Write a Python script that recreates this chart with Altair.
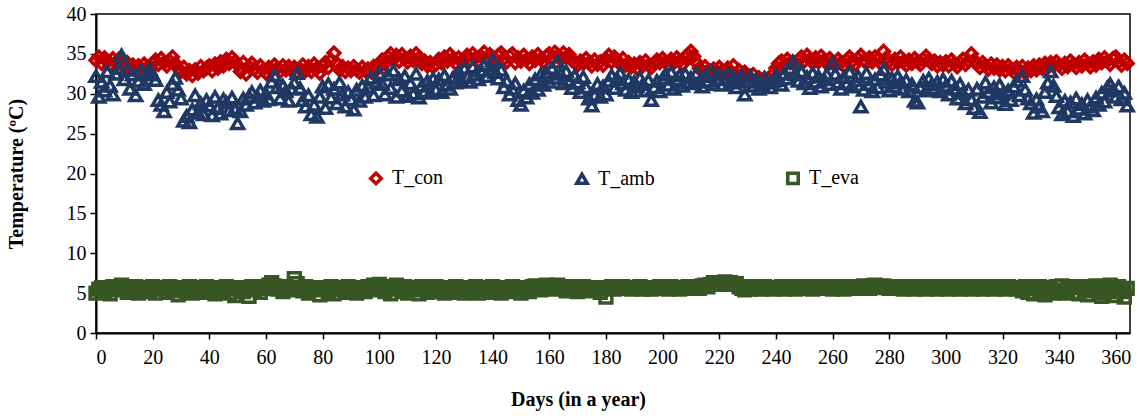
import altair as alt
import pandas as pd

days = list(range(365))

t_con = [
    34.2, 34.6, 33.8, 34.5, 34.0, 33.6, 34.4, 33.9, 34.3, 33.7,
    33.4, 33.9, 33.2, 33.6, 33.0, 33.5, 33.1, 33.7, 33.3, 33.0,
    33.8, 34.2, 33.7, 34.4, 33.9, 33.5, 34.1, 34.6, 33.8, 33.2,
    32.8, 33.3, 32.5, 32.9, 32.3, 33.0, 32.6, 33.4, 32.9, 33.2,
    33.5, 32.9, 33.7, 33.2, 34.0, 33.5, 34.3, 33.8, 34.5, 34.0,
    33.6, 32.8, 33.9, 32.5, 33.4, 33.8, 33.1, 32.7, 33.5, 33.0,
    32.6, 33.3, 32.9, 33.6, 33.2, 32.8, 33.5, 33.0, 33.4, 32.9,
    33.3, 32.7, 33.1, 33.6, 32.9, 33.4, 32.8, 33.7, 33.2, 32.6,
    33.5, 33.9, 33.3, 34.2, 35.1, 33.8, 33.0, 33.4, 32.8, 33.2,
    32.9, 33.4, 33.0, 32.7, 33.3, 32.9, 33.1, 32.8, 33.4, 33.0,
    33.6, 34.2, 33.8, 34.6, 35.0, 34.3, 34.8, 34.1, 34.9, 34.4,
    34.0, 34.7, 34.2, 35.0, 34.5, 33.8, 34.1, 33.5, 33.9, 33.4,
    33.7, 34.3, 33.9, 34.6, 34.1, 34.9, 34.4, 33.8, 34.5, 34.0,
    34.3, 34.8, 34.2, 35.0, 34.5, 34.1, 34.7, 35.2, 34.4, 34.9,
    34.6, 34.2, 34.8, 35.1, 34.4, 34.0, 34.7, 35.0, 33.9, 34.5,
    34.1, 34.8, 34.3, 33.8, 34.6, 34.2, 34.9, 34.4, 34.0, 34.7,
    35.0, 34.5, 35.2, 34.8, 34.3, 35.1, 34.6, 34.9, 34.2, 33.9,
    33.6, 34.1, 33.8, 34.4, 33.9, 33.5, 34.2, 33.7, 34.0, 33.6,
    34.3, 34.8, 34.0, 34.6, 34.1, 33.8, 34.4, 33.6, 33.9, 33.4,
    33.7, 33.2, 33.9, 33.5, 34.1, 33.6, 33.3, 33.8, 34.2, 33.9,
    34.4, 34.0, 33.6, 34.3, 33.9, 34.5, 34.1, 33.7, 34.6, 34.9,
    35.3, 34.7, 33.9, 33.2, 32.8, 33.4, 32.9, 32.5, 33.1, 32.7,
    33.3, 32.9, 32.6, 33.2, 32.8, 33.5, 32.4, 32.9, 32.3, 32.7,
    32.1, 31.8, 32.4, 31.6, 32.0, 31.4, 31.9, 31.2, 31.7, 32.5,
    33.2, 33.8, 34.1, 33.6, 34.3, 33.9, 34.0, 33.5, 34.2, 34.6,
    34.1, 34.8, 34.3, 33.9, 34.5, 34.0, 34.7, 34.2, 33.8, 34.4,
    34.0, 33.6, 34.3, 33.9, 33.5, 34.2, 34.6, 34.1, 33.7, 34.4,
    34.8, 34.2, 33.9, 34.5, 34.0, 34.6, 34.3, 33.8, 35.3, 34.5,
    34.1, 33.7, 34.3, 33.9, 34.6, 34.0, 33.6, 34.2, 33.8, 34.4,
    34.0, 33.7, 34.3, 34.7, 34.2, 33.8, 34.1, 33.5, 33.9, 33.6,
    34.0, 33.5, 34.2, 33.8, 33.4, 33.9, 34.3, 33.7, 34.1, 35.0,
    34.2, 33.8, 33.3, 33.9, 33.5, 33.1, 33.7, 33.2, 33.6, 33.0,
    33.4, 32.9, 33.5, 33.1, 32.7, 33.3, 32.8, 33.4, 32.6, 33.2,
    32.9, 33.5, 33.0, 33.6, 33.2, 33.8, 33.3, 33.9, 33.5, 34.0,
    33.6, 33.2, 33.8, 33.4, 34.1, 33.7, 33.3, 33.9, 33.5, 34.2,
    33.8, 33.4, 34.0, 33.6, 34.3, 33.9, 34.5, 34.1, 33.7, 34.4,
    34.6, 34.0, 33.6, 34.2, 33.8,
]

t_amb = [
    32.2, 29.6, 31.5, 30.4, 32.8, 31.0, 29.9, 32.5, 33.2, 34.8,
    31.8, 33.0, 30.6, 32.4, 29.8, 31.6, 32.9, 31.2, 32.6, 33.1,
    32.4, 31.7, 29.2, 28.6, 27.8, 30.2, 29.0, 31.2, 32.0, 30.5,
    29.4, 26.6, 27.2, 26.4, 28.0, 29.8, 27.6, 28.8, 27.4, 29.2,
    28.5, 27.3, 29.6, 28.2, 27.5, 29.3, 28.9, 27.9, 29.5, 28.1,
    26.3, 27.8, 29.4, 28.6, 29.7, 30.2, 28.9, 29.6, 30.4, 29.1,
    30.0, 29.3, 31.5, 32.3, 30.8, 29.4, 31.0, 30.3, 29.1, 30.6,
    31.4, 32.6, 30.7, 29.2, 28.4, 29.8, 27.4, 28.6, 27.1, 29.6,
    30.9, 28.2, 31.2, 29.5, 30.6, 28.8, 31.4, 29.9, 28.4, 30.2,
    29.3, 28.0, 30.5, 29.1, 31.0, 29.6, 30.8, 32.0, 29.8, 31.5,
    32.6, 31.2, 29.9, 32.4, 30.7, 32.9, 29.6, 31.8, 30.4, 32.2,
    29.7, 31.3, 30.0, 32.5, 29.5, 31.0, 30.3, 31.6, 30.1, 31.9,
    30.5, 31.8, 30.2, 32.3, 31.1, 30.6, 32.0, 31.4, 32.8, 31.7,
    33.2, 32.1, 31.5, 33.4, 32.4, 31.8, 32.9, 33.6, 32.2, 33.1,
    34.2, 32.7, 31.9, 33.0, 30.8, 31.6, 29.9, 30.6, 31.3, 29.2,
    28.6, 30.4, 29.5, 31.2, 30.1, 31.8, 30.5, 32.4, 31.1, 32.7,
    31.5, 33.2, 32.0, 34.0, 32.5, 31.3, 32.8, 31.6, 30.7, 32.3,
    31.4, 30.2, 32.1, 30.8, 29.4, 28.5, 29.8, 31.2, 29.6, 30.9,
    29.9, 31.6, 32.3, 30.7, 31.9, 32.6, 31.3, 30.5, 31.8, 30.2,
    31.5, 30.9, 32.0, 31.2, 30.4, 31.7, 29.2, 30.8, 31.6, 30.3,
    31.9, 32.4, 31.1, 32.7, 30.6, 31.8, 32.3, 31.0, 32.5, 31.4,
    32.0, 31.3, 32.6, 31.5, 30.9, 32.2, 31.6, 32.8, 31.2, 31.9,
    32.4, 31.1, 31.8, 32.5, 31.4, 32.1, 30.8, 31.7, 32.3, 29.9,
    31.5, 32.2, 31.0, 31.8, 30.6, 31.2, 32.0, 31.4, 30.8, 31.6,
    32.3, 31.7, 31.1, 32.5, 31.9, 33.2, 34.0, 32.4, 31.6, 32.8,
    31.3, 32.1, 30.7, 32.6, 31.5, 32.2, 30.9, 31.8, 32.4, 31.2,
    33.8, 32.5, 31.4, 30.6, 32.1, 31.3, 32.7, 30.9, 31.7, 32.2,
    28.4, 30.5, 32.6, 31.2, 30.3, 31.8, 30.8, 32.4, 33.1, 31.5,
    30.4, 31.9, 30.9, 32.2, 31.4, 30.6, 31.7, 30.3, 31.2, 29.1,
    28.9, 30.8, 31.6, 30.4, 31.9, 31.2, 30.7, 31.5, 30.3, 31.8,
    31.0, 29.9, 31.6, 30.6, 29.4, 31.2, 30.1, 28.8, 30.5, 29.3,
    28.2, 30.6, 27.7, 29.6, 31.4, 30.2, 28.9, 30.8, 29.5, 31.1,
    30.0, 28.7, 30.4, 29.2, 30.9, 31.6, 29.8, 32.2, 30.5, 29.4,
    28.8, 27.6, 29.3, 28.4, 27.8, 30.2, 31.4, 32.8, 31.0, 29.7,
    28.3, 27.4, 29.1, 27.8, 28.9, 27.2, 29.4, 28.1, 28.7, 27.5,
    29.2, 28.4, 27.9, 29.5, 28.6, 30.1, 29.0, 30.8, 31.2, 30.4,
    29.6, 30.9, 29.3, 30.1, 28.5,
]

t_eva = [
    5.0, 5.5, 5.7, 5.2, 5.6, 4.9, 5.8, 5.4, 5.7, 6.0,
    5.5, 5.1, 5.7, 5.3, 5.8, 5.0, 5.6, 5.4, 5.7, 5.2,
    5.8, 5.0, 5.6, 5.5, 5.7, 5.1, 5.8, 5.3, 5.6, 4.8,
    5.7, 5.5, 5.2, 5.8, 5.0, 5.6, 5.4, 5.7, 5.1, 5.8,
    5.3, 5.6, 4.9, 5.7, 5.5, 5.2, 5.8, 5.0, 5.6, 4.7,
    5.5, 5.7, 5.2, 5.6, 4.6, 5.8, 5.4, 5.7, 5.1, 5.6,
    5.8, 6.0, 6.3, 5.9, 5.5, 5.7, 5.2, 5.8, 5.4, 5.6,
    6.8, 6.2, 5.7, 5.3, 5.8, 5.0, 5.6, 5.4, 5.7, 4.8,
    5.6, 5.5, 5.2, 5.8, 4.9, 5.6, 5.4, 5.7, 5.1, 5.8,
    5.3, 5.6, 5.0, 5.7, 5.5, 5.2, 5.8, 5.4, 6.0, 5.6,
    6.1, 5.7, 5.2, 5.8, 4.9, 5.6, 6.0, 5.5, 5.2, 5.8,
    5.0, 5.6, 5.4, 5.7, 4.9, 5.8, 5.5, 5.1, 5.7, 5.4,
    5.8, 5.2, 5.6, 5.0, 5.7, 5.5, 5.1, 5.8, 5.3, 5.6,
    5.0, 5.7, 5.5, 5.2, 5.8, 5.0, 5.6, 5.4, 5.7, 5.1,
    5.8, 5.3, 5.6, 5.0, 5.7, 5.5, 5.2, 5.8, 5.4, 5.6,
    5.0, 5.7, 5.5, 5.2, 5.8, 5.9, 5.6, 5.4, 5.7, 6.0,
    5.8, 5.5, 5.9, 6.0, 5.6, 5.8, 5.3, 5.7, 5.5, 5.8,
    5.2, 5.6, 5.8, 5.4, 5.7, 5.3, 5.6, 5.5, 5.1, 5.7,
    4.5, 5.6, 5.8, 5.5, 5.7, 5.6, 5.8, 5.6, 5.7, 5.5,
    5.7, 5.6, 5.8, 5.5, 5.7, 5.6, 5.5, 5.7, 5.6, 5.8,
    5.6, 5.7, 5.5, 5.8, 5.6, 5.7, 5.5, 5.7, 5.6, 5.8,
    5.6, 5.7, 5.8, 5.6, 5.9, 6.0, 5.8, 6.1, 6.3, 6.2,
    6.3, 6.1, 6.4, 6.2, 6.3, 6.1, 6.2, 5.8, 5.6, 5.4,
    5.7, 5.5, 5.8, 5.6, 5.7, 5.5, 5.8, 5.6, 5.7, 5.5,
    5.7, 5.6, 5.8, 5.5, 5.7, 5.6, 5.8, 5.5, 5.7, 5.6,
    5.8, 5.6, 5.7, 5.5, 5.8, 5.6, 5.7, 5.8, 5.6, 5.7,
    5.5, 5.8, 5.6, 5.7, 5.5, 5.8, 5.6, 5.7, 5.8, 5.6,
    5.7, 5.9, 5.8, 5.6, 5.9, 6.0, 5.8, 5.7, 5.9, 5.8,
    5.6, 5.7, 5.8, 5.6, 5.7, 5.5, 5.8, 5.6, 5.7, 5.5,
    5.8, 5.6, 5.7, 5.5, 5.8, 5.6, 5.7, 5.5, 5.8, 5.6,
    5.7, 5.5, 5.8, 5.6, 5.7, 5.5, 5.8, 5.6, 5.7, 5.5,
    5.8, 5.6, 5.7, 5.5, 5.8, 5.6, 5.7, 5.5, 5.8, 5.6,
    5.7, 5.5, 5.8, 5.6, 5.7, 5.5, 5.6, 5.3, 5.8, 5.1,
    5.7, 4.9, 5.6, 5.8, 5.2, 4.8, 5.7, 5.5, 5.0, 5.8,
    5.3, 5.9, 5.0, 5.6, 5.8, 5.1, 5.7, 4.9, 5.8, 5.4,
    4.8, 5.6, 5.3, 5.9, 5.0, 4.6, 5.7, 5.2, 6.0, 5.5,
    4.7, 5.8, 5.2, 4.5, 5.6,
]

series_names = ["T_con", "T_amb", "T_eva"]
series_colors = ["#C00000", "#1F3864", "#375623"]
series_shapes = ["diamond", "triangle-up", "square"]

x_ticks = list(range(0, 361, 20))
y_ticks = list(range(0, 41, 5))

rows = []
for name, vals in zip(series_names, [t_con, t_amb, t_eva]):
    for d, v in zip(days, vals):
        rows.append({"day": d, "temp": v, "series": name})
df = pd.DataFrame(rows)

FONT = "Liberation Serif"

chart = (
    alt.Chart(df)
    .mark_point(filled=False, strokeWidth=3.5, size=140, opacity=1)
    .encode(
        x=alt.X(
            "day:Q",
            scale=alt.Scale(domain=[0, 365], nice=False, zero=False),
            axis=alt.Axis(
                values=x_ticks,
                title="Days (in a year)",
                titleX=482,
                titleAlign="center",
                titlePadding=22,
                labelPadding=8,
            ),
        ),
        y=alt.Y(
            "temp:Q",
            scale=alt.Scale(domain=[0, 40], nice=False),
            axis=alt.Axis(values=y_ticks, title="Temperature (ºC)", titlePadding=40),
        ),
        color=alt.Color(
            "series:N",
            scale=alt.Scale(domain=series_names, range=series_colors),
            legend=alt.Legend(
                orient="none",
                legendX=270,
                legendY=154,
                direction="horizontal",
                title=None,
                columnPadding=125,
                symbolStrokeWidth=3.5,
                symbolSize=110,
                labelFont=FONT,
                labelFontSize=20,
                labelColor="black",
                labelOffset=6,
            ),
        ),
        shape=alt.Shape(
            "series:N",
            scale=alt.Scale(domain=series_names, range=series_shapes),
        ),
    )
    .properties(
        width=1034,
        height=319,
        autosize="none",
        background="white",
        padding={"left": 96, "top": 14, "right": 9, "bottom": 83},
    )
    .configure_view(stroke="black", strokeWidth=1.5)
    .configure_axis(
        grid=False,
        domainColor="black",
        domainWidth=2,
        tickColor="black",
        tickWidth=1.5,
        tickSize=6,
        labelFont=FONT,
        labelFontSize=20,
        labelColor="black",
        labelPadding=4,
        titleFont=FONT,
        titleFontSize=20,
        titleFontWeight="bold",
        titleColor="black",
    )
)

chart.save("out.html", embed_options={"renderer": "svg", "actions": False})
